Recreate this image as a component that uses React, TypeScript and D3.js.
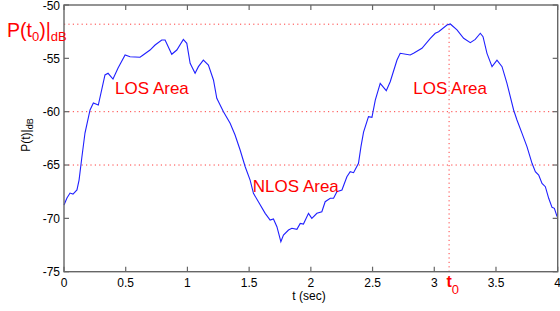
import React from "react";
import * as d3 from "d3";

const timeSec = [0.000,0.024,0.049,0.073,0.105,0.122,0.144,0.170,0.211,0.238,0.278,0.332,0.357,0.397,0.438,0.495,0.535,0.616,0.641,0.697,0.738,0.792,0.819,0.873,0.914,0.967,0.995,1.022,1.062,1.089,1.129,1.170,1.211,1.238,1.292,1.346,1.386,1.427,1.468,1.508,1.535,1.575,1.630,1.670,1.697,1.725,1.757,1.778,1.819,1.846,1.887,1.914,1.940,1.981,2.008,2.049,2.089,2.116,2.157,2.184,2.211,2.252,2.292,2.319,2.346,2.386,2.406,2.427,2.467,2.495,2.522,2.562,2.611,2.643,2.698,2.724,2.805,2.832,2.900,2.968,3.008,3.035,3.103,3.130,3.184,3.238,3.292,3.332,3.373,3.395,3.427,3.468,3.508,3.549,3.589,3.643,3.670,3.711,3.751,3.792,3.819,3.846,3.873,3.900,3.927,3.954,3.973,3.995];
const powerDb = [-68.75,-68.09,-67.63,-67.72,-67.34,-66.41,-64.34,-62.00,-59.84,-59.19,-59.38,-56.56,-56.40,-56.94,-55.91,-54.69,-54.85,-54.90,-54.69,-54.22,-53.75,-53.28,-53.28,-54.62,-54.22,-53.22,-53.59,-55.47,-56.40,-55.78,-55.16,-55.63,-57.03,-58.75,-60.00,-61.09,-62.19,-63.59,-65.16,-66.41,-67.65,-68.44,-69.53,-70.16,-70.06,-70.78,-72.19,-71.56,-71.09,-70.93,-71.03,-70.47,-70.53,-69.53,-70.00,-69.53,-69.38,-68.44,-68.12,-68.12,-67.50,-67.34,-66.10,-65.63,-65.72,-64.84,-63.28,-61.91,-60.47,-60.53,-58.91,-57.34,-58.03,-57.19,-55.16,-54.53,-54.69,-54.53,-54.06,-53.12,-52.65,-52.50,-51.88,-51.78,-52.34,-53.12,-53.53,-53.22,-52.65,-52.97,-54.53,-55.78,-55.16,-55.78,-57.34,-59.84,-60.78,-62.03,-63.28,-64.84,-65.63,-65.94,-66.72,-67.03,-68.12,-68.97,-69.06,-69.84];

const xTicks = [0, 0.5, 1, 1.5, 2, 2.5, 3, 3.5, 4];
const xTickLabels = ["0", "0.5", "1", "1.5", "2", "2.5", "3", "3.5", "4"];
const yTicks = [-75, -70, -65, -60, -55, -50];
const yTickLabels = ["-75", "-70", "-65", "-60", "-55", "-50"];
const gridLevels = [-60, -65];
const t0 = 3.12;
const pT0 = -51.8;
const areaLabels = ["LOS Area", "NLOS Area", "LOS Area"];
const areaPos = [
  { t: 0.414, v: -58.34 },
  { t: 1.530, v: -67.56 },
  { t: 2.830, v: -58.34 },
];

export default function App() {
  const left = 64, right = 557.7, top = 5, bottom = 271.7;
  const x = d3.scaleLinear().domain([0, 4]).range([left, right]);
  const y = d3.scaleLinear().domain([-75, -50]).range([bottom, top]);
  const pts: [number, number][] = timeSec.map((t, i) => [t, powerDb[i]]);
  const line = d3.line<[number, number]>().x(d => x(d[0])).y(d => y(d[1]));
  const font = "'Liberation Sans', Arial, sans-serif";
  const axisColor = "#666";
  const tickLen = 5;
  const red = "#ff0000";
  const dotted = { stroke: red, strokeWidth: 1, strokeDasharray: "1.2,3.2", opacity: 0.75 };

  return (
    <svg width={560} height={311} style={{ position: "absolute", left: 0, top: 0, background: "#fff" }} fontFamily={font}>
      <rect x={0} y={0} width={560} height={311} fill="#fff" />
      {gridLevels.map(g => (
        <line key={g} x1={left} x2={right} y1={y(g)} y2={y(g)} {...dotted} />
      ))}
      <line x1={left} x2={x(t0)} y1={y(pT0)} y2={y(pT0)} {...dotted} />
      <line x1={x(t0)} x2={x(t0)} y1={y(pT0)} y2={bottom} {...dotted} />
      <path d={line(pts) || ""} fill="none" stroke="#2020ff" strokeWidth={1.1} />
      <rect x={left} y={top} width={right - left} height={bottom - top} fill="none" stroke={axisColor} strokeWidth={1.4} />
      {xTicks.map((t, i) => (
        <g key={"x" + i}>
          <line x1={x(t)} x2={x(t)} y1={bottom} y2={bottom - tickLen} stroke={axisColor} strokeWidth={1.2} />
          <line x1={x(t)} x2={x(t)} y1={top} y2={top + tickLen} stroke={axisColor} strokeWidth={1.2} />
          <text x={x(t)} y={287} fontSize={12} textAnchor="middle" fill="#000">{xTickLabels[i]}</text>
        </g>
      ))}
      {yTicks.map((v, i) => (
        <g key={"y" + i}>
          <line x1={left} x2={left + tickLen} y1={y(v)} y2={y(v)} stroke={axisColor} strokeWidth={1.2} />
          <line x1={right} x2={right - tickLen} y1={y(v)} y2={y(v)} stroke={axisColor} strokeWidth={1.2} />
          <text x={60} y={Math.max(y(v) + 4.3, 10)} fontSize={12} textAnchor="end" fill="#000">{yTickLabels[i]}</text>
        </g>
      ))}
      <text x={309} y={300} fontSize={12} textAnchor="middle" fill="#000">t (sec)</text>
      <text transform="translate(30,135) rotate(-90)" fontSize={12} textAnchor="middle" fill="#000">
        P(t)|<tspan fontSize={9} dy={3}>dB</tspan>
      </text>
      <text x={7} y={36.5} fontSize={19.5} fill={red}>
        P(t<tspan fontSize={13} dy={4}>0</tspan><tspan dy={-4}>)|</tspan><tspan fontSize={13} dy={4}>dB</tspan>
      </text>
      <text x={446.5} y={287.3} fontSize={16} fill={red} fontWeight="bold">
        t<tspan fontSize={13} fontWeight="normal" dy={6.5}>0</tspan>
      </text>
      {areaLabels.map((s, i) => (
        <text key={i} x={x(areaPos[i].t)} y={y(areaPos[i].v)} fontSize={17} fill={red}>{s}</text>
      ))}
    </svg>
  );
}
